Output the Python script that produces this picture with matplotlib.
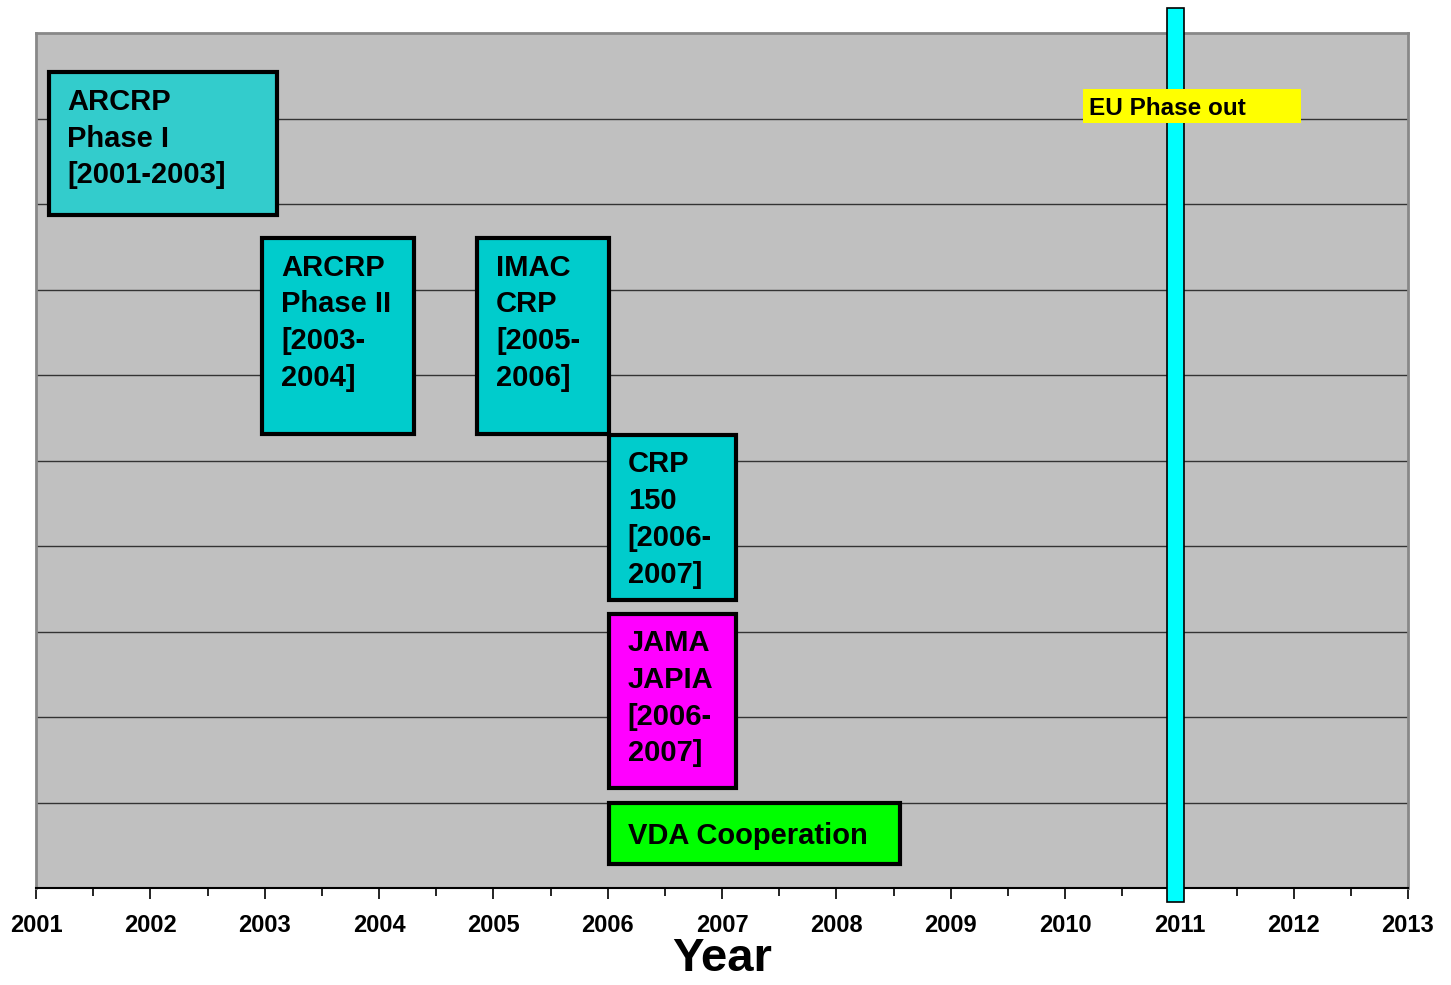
import matplotlib
matplotlib.use("Agg")
import matplotlib.pyplot as plt
from matplotlib.patches import Rectangle

plt.rcParams['font.family'] = ['Liberation Sans', 'DejaVu Sans']
plt.rcParams['font.weight'] = 'bold'

# Data
years = list(range(2001, 2014))
labels = ["ARCRP\nPhase I\n[2001-2003]", "ARCRP\nPhase II\n[2003-\n2004]",
          "IMAC\nCRP\n[2005-\n2006]", "CRP\n150\n[2006-\n2007]",
          "JAMA\nJAPIA\n[2006-\n2007]", "VDA Cooperation"]
x_start = [2001.11, 2002.98, 2004.86, 2006.01, 2006.01, 2006.01]
x_end = [2003.11, 2004.31, 2006.01, 2007.12, 2007.12, 2008.56]
y_low = [7.87, 5.31, 5.31, 3.37, 1.17, 0.28]
y_high = [9.54, 7.60, 7.60, 5.30, 3.21, 0.99]
colors = ["#33CCCC", "#00CCCC", "#00CCCC", "#00CCCC", "#FF00FF", "#00FF00"]

phaseout_year = 2011
phaseout_x = [2010.89, 2011.04]
phaseout_y = [-0.16, 10.29]
eu_label = "EU Phase out"
eu_x = [2010.16, 2012.06]
eu_y = [8.95, 9.35]

fig = plt.figure(figsize=(14.51, 9.85), dpi=100)
ax = fig.add_axes([36/1451, 97/985, (1408-36)/1451, (888-33)/985])
ax.set_facecolor("#C0C0C0")
ax.set_xlim(2001, 2013)
ax.set_ylim(0, 10)

for y in range(1, 10):
    ax.axhline(y, color="#333333", lw=1.0, zorder=1)

for lab, x0, x1, y0, y1, c in zip(labels, x_start, x_end, y_low, y_high, colors):
    ax.add_patch(Rectangle((x0, y0), x1 - x0, y1 - y0, facecolor=c,
                           edgecolor="black", lw=3, zorder=3))
    if "\n" in lab:
        ax.text(x0 + 0.165, y1 - 0.18, lab, ha="left", va="top", fontsize=21,
                fontweight="bold", linespacing=1.4, zorder=4)
    else:
        ax.text(x0 + 0.165, (y0 + y1) / 2 - 0.03, lab, ha="left", va="center",
                fontsize=21, fontweight="bold", zorder=4)

ax.add_patch(Rectangle((phaseout_x[0], phaseout_y[0]), phaseout_x[1] - phaseout_x[0],
                       phaseout_y[1] - phaseout_y[0], facecolor="#00FFFF",
                       edgecolor="black", lw=1.2, zorder=5, clip_on=False))
ax.add_patch(Rectangle((eu_x[0], eu_y[0]), eu_x[1] - eu_x[0], eu_y[1] - eu_y[0],
                       facecolor="#FFFF00", edgecolor="none", zorder=6))
ax.text(eu_x[0] + 0.05, (eu_y[0] + eu_y[1]) / 2 - 0.03, eu_label, ha="left", va="center",
        fontsize=17.5, fontweight="bold", zorder=7)

ax.set_xticks(years)
ax.set_xticklabels([str(y) for y in years], fontsize=17, fontweight="bold")
ax.set_xticks([y + 0.5 for y in years[:-1]], minor=True)
ax.tick_params(axis="x", which="major", length=8, width=1.2, pad=11)
ax.tick_params(axis="x", which="minor", length=6, width=1.2)
ax.set_yticks([])
ax.set_xlabel("Year", fontsize=34, fontweight="bold", labelpad=0)

for s in ["left", "top", "right"]:
    ax.spines[s].set_color("#888888")
    ax.spines[s].set_linewidth(2)
ax.spines["bottom"].set_color("black")
ax.spines["bottom"].set_linewidth(1.5)

fig.savefig("out.png", dpi=100)
